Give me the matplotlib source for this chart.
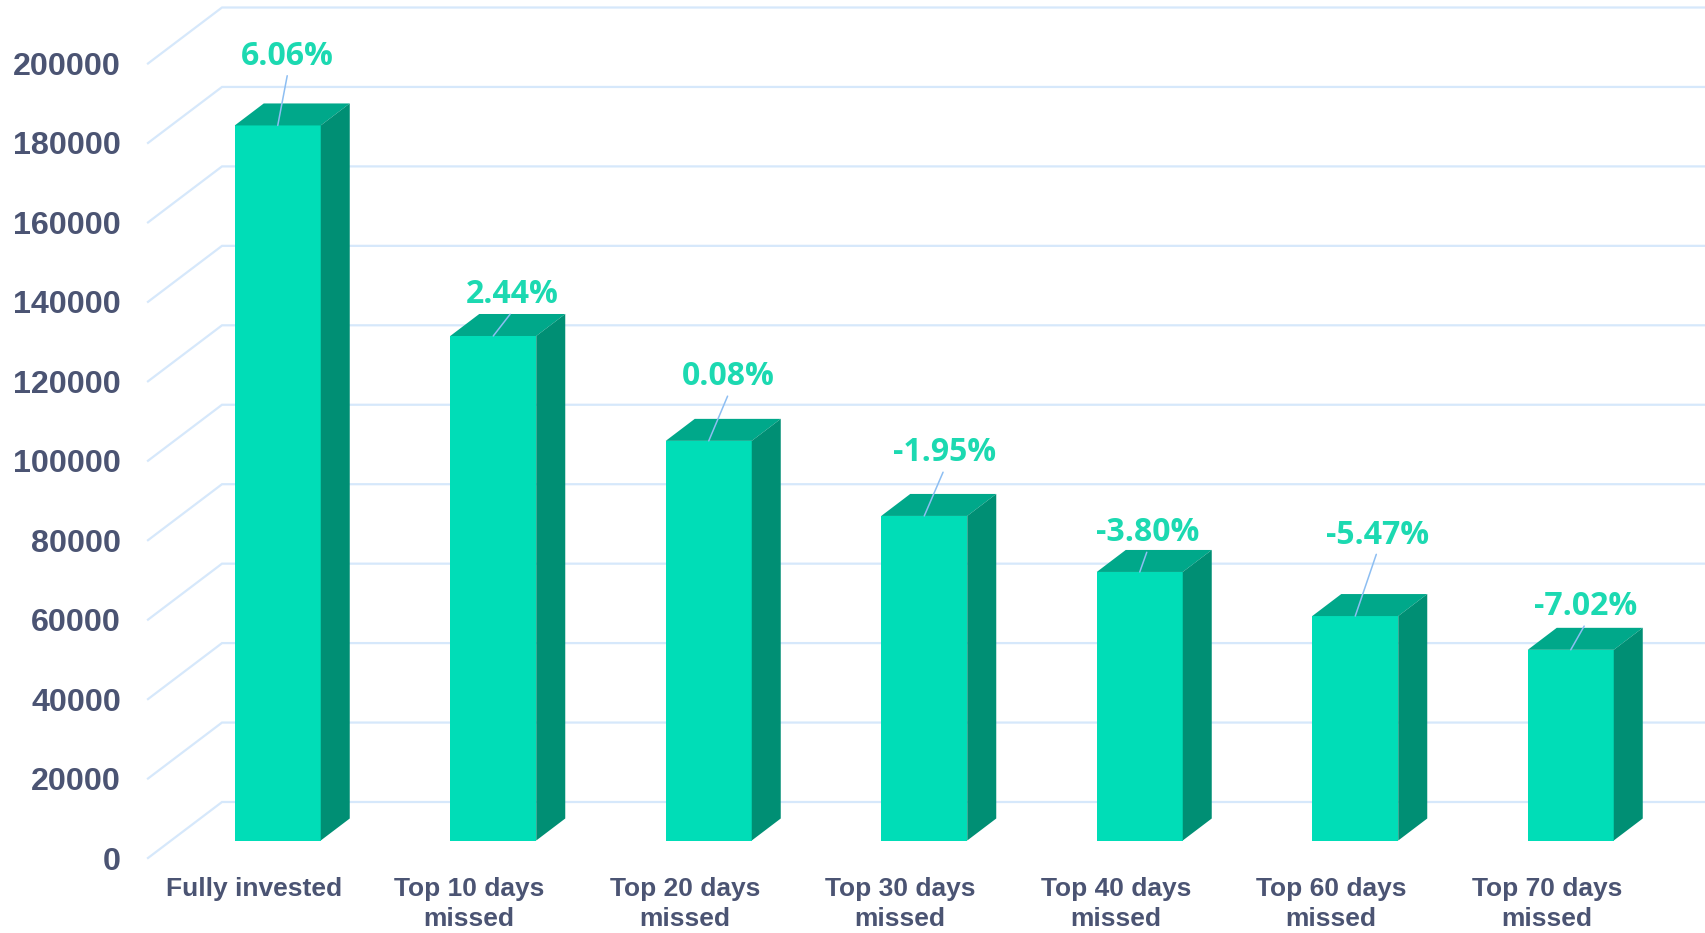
import matplotlib.pyplot as plt
from matplotlib.patches import Polygon

# data
categories = ['Fully invested', 'Top 10 days\nmissed', 'Top 20 days\nmissed',
              'Top 30 days\nmissed', 'Top 40 days\nmissed', 'Top 60 days\nmissed',
              'Top 70 days\nmissed']
values = [180000, 127000, 100600, 81700, 67600, 56500, 48000]
returns = ['6.06%', '2.44%', '0.08%', '-1.95%', '-3.80%', '-5.47%', '-7.02%']
y_ticks = list(range(0, 200001, 20000))

# layout (pixels) - hand placed data labels, like the original
label_dx = [10, 19, 20, 20, 8, 22, 15]
label_dy = [69, 41, 64, 63, 39, 81, 43]

front_c = '#00DDB7'
top_c = '#00A88A'
side_c = '#008F74'
grid_c = '#D6E8FB'
text_c = '#4B5473'
pct_c = '#1CD9B1'
leader_c = '#8DBEF2'

W, H = 1706, 933
fig = plt.figure(figsize=(W / 100, H / 100), dpi=100)
cat_px = 215.5
ax_left, ax_bottom, ax_top = 146, 858, 63.5
ax = fig.add_axes([ax_left / W, (H - ax_bottom) / H,
                   7 * cat_px / W, (ax_bottom - ax_top) / H])
ax.set_xlim(-0.5, 6.5)
ax.set_ylim(0, 200000)

# pixel -> data unit helpers
px_x = 1 / cat_px
px_y = 200000 / (ax_bottom - ax_top)

# back wall depth, bar plane shift, bar depth (pixels)
wall_dx, wall_dy = 74 * px_x, 56 * px_y
shift_x, shift_y = 24 * px_x, 17.5 * px_y
depth_x, depth_y = 29 * px_x, 22 * px_y
bar_w = 86 * px_x

# gridlines: diagonal from front edge to back wall, then along the wall
for t in y_ticks:
    x0 = -0.5 + 2 * px_x
    ax.plot([x0, x0 + wall_dx, 8], [t, t + wall_dy, t + wall_dy],
            color=grid_c, lw=1.6, clip_on=False, zorder=1,
            solid_joinstyle='miter')

xs = [i + shift_x for i in range(len(values))]
ax.bar(xs, values, width=bar_w, bottom=shift_y, color=front_c,
       zorder=3, clip_on=False)

for i, v in enumerate(values):
    xl = xs[i] - bar_w / 2
    xr = xs[i] + bar_w / 2
    y0 = shift_y
    yt = v + shift_y
    top = Polygon([(xl, yt), (xr, yt), (xr + depth_x, yt + depth_y),
                   (xl + depth_x, yt + depth_y)], closed=True,
                  facecolor=top_c, edgecolor='none', zorder=3, clip_on=False)
    side = Polygon([(xr, y0), (xr, yt), (xr + depth_x, yt + depth_y),
                    (xr + depth_x, y0 + depth_y)], closed=True,
                   facecolor=side_c, edgecolor='none', zorder=3, clip_on=False)
    ax.add_patch(top)
    ax.add_patch(side)
    ax.annotate(returns[i], xy=(xs[i], yt), xytext=(label_dx[i], label_dy[i]),
                textcoords='offset pixels', ha='center', va='center',
                fontsize=23, fontweight='bold', family='Open Sans', color=pct_c,
                zorder=5, annotation_clip=False,
                arrowprops=dict(arrowstyle='-', color=leader_c, lw=1.1,
                                shrinkA=0, shrinkB=0, relpos=(0.5, 0)))

ax.set_xticks(range(len(categories)))
ax.set_xticklabels(categories, linespacing=1.3)
ax.set_yticks(y_ticks)
ax.set_yticklabels([str(t) for t in y_ticks])
ax.tick_params(axis='both', length=0, colors=text_c)
ax.tick_params(axis='y', pad=18, labelsize=23.2)
ax.tick_params(axis='x', pad=14, labelsize=19)
for lab in ax.get_xticklabels() + ax.get_yticklabels():
    lab.set_family('Liberation Sans')
    lab.set_fontweight('bold')
for s in ax.spines.values():
    s.set_visible(False)
ax.patch.set_alpha(0)

fig.savefig('out.png', dpi=100, facecolor='white')
